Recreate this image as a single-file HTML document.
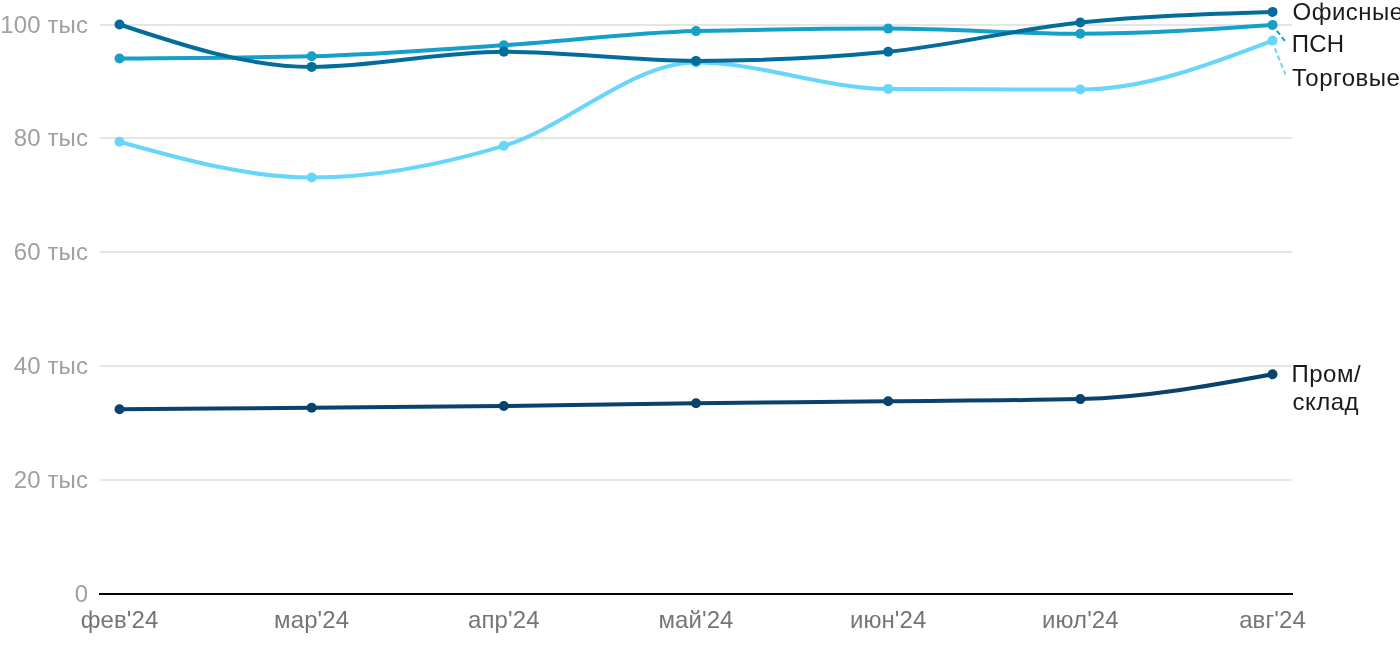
<!DOCTYPE html><html><head><meta charset="utf-8"><title>chart</title><style>
html,body{margin:0;padding:0;background:#fff;overflow:hidden;}
body{width:1400px;height:650px;position:relative;overflow:hidden;font-family:"Liberation Sans",sans-serif;}
.t{position:absolute;white-space:nowrap;line-height:1;}
.y{color:#a0a0a0;font-size:24px;text-align:right;letter-spacing:0.15px;}
.x{color:#757575;font-size:24px;text-align:center;transform:translateX(-50%);letter-spacing:0.1px;}
#txt{position:absolute;left:0;top:0;width:1400px;height:650px;will-change:transform;overflow:hidden;}
.l{color:#1a1a1a;font-size:24px;}
</style></head><body>
<svg width="1400" height="650" viewBox="0 0 1400 650" style="position:absolute;left:0;top:0">
<rect x="100" y="24" width="1192" height="2" fill="#e5e5e5"/>
<rect x="100" y="137" width="1192" height="2" fill="#e5e5e5"/>
<rect x="100" y="251" width="1192" height="2" fill="#e5e5e5"/>
<rect x="100" y="365" width="1192" height="2" fill="#e5e5e5"/>
<rect x="100" y="479" width="1192" height="2" fill="#e5e5e5"/>
<rect x="99" y="593" width="1194" height="2" fill="#000"/>
<path d="M119.50,409.30C183.56,408.77,247.61,408.25,311.67,407.70C375.72,407.15,439.78,406.75,503.83,406.00C567.89,405.25,631.94,403.98,696.00,403.20C760.06,402.42,824.11,401.98,888.17,401.30C952.22,400.62,1016.28,400.57,1080.33,399.10C1144.39,397.63,1208.44,385.97,1272.50,374.30" fill="none" stroke="#09436d" stroke-width="4" stroke-linecap="round" stroke-linejoin="round"/>
<circle cx="119.50" cy="409.30" r="5" fill="#09436d"/>
<circle cx="311.67" cy="407.70" r="5" fill="#09436d"/>
<circle cx="503.83" cy="406.00" r="5" fill="#09436d"/>
<circle cx="696.00" cy="403.20" r="5" fill="#09436d"/>
<circle cx="888.17" cy="401.30" r="5" fill="#09436d"/>
<circle cx="1080.33" cy="399.10" r="5" fill="#09436d"/>
<circle cx="1272.50" cy="374.30" r="5" fill="#09436d"/>
<path d="M119.50,141.70C183.56,159.60,247.61,177.50,311.67,177.50C375.72,177.50,439.78,164.97,503.83,145.80C567.89,126.63,631.94,62.50,696.00,62.50C760.06,62.50,824.11,88.50,888.17,88.90C952.22,89.30,1016.28,89.50,1080.33,89.50C1144.39,89.50,1208.44,65.05,1272.50,40.60" fill="none" stroke="#68d5fa" stroke-width="4" stroke-linecap="round" stroke-linejoin="round"/>
<circle cx="119.50" cy="141.70" r="5" fill="#68d5fa"/>
<circle cx="311.67" cy="177.50" r="5" fill="#68d5fa"/>
<circle cx="503.83" cy="145.80" r="5" fill="#68d5fa"/>
<circle cx="696.00" cy="62.50" r="5" fill="#68d5fa"/>
<circle cx="888.17" cy="88.90" r="5" fill="#68d5fa"/>
<circle cx="1080.33" cy="89.50" r="5" fill="#68d5fa"/>
<circle cx="1272.50" cy="40.60" r="5" fill="#68d5fa"/>
<path d="M119.50,58.50C183.56,58.12,247.61,57.73,311.67,56.20C375.72,54.67,439.78,49.38,503.83,45.20C567.89,41.02,631.94,32.77,696.00,31.10C760.06,29.43,824.11,28.60,888.17,28.60C952.22,28.60,1016.28,33.80,1080.33,33.80C1144.39,33.80,1208.44,29.35,1272.50,24.90" fill="none" stroke="#159fc9" stroke-width="4" stroke-linecap="round" stroke-linejoin="round"/>
<circle cx="119.50" cy="58.50" r="5" fill="#159fc9"/>
<circle cx="311.67" cy="56.20" r="5" fill="#159fc9"/>
<circle cx="503.83" cy="45.20" r="5" fill="#159fc9"/>
<circle cx="696.00" cy="31.10" r="5" fill="#159fc9"/>
<circle cx="888.17" cy="28.60" r="5" fill="#159fc9"/>
<circle cx="1080.33" cy="33.80" r="5" fill="#159fc9"/>
<circle cx="1272.50" cy="24.90" r="5" fill="#159fc9"/>
<path d="M119.50,24.50C183.56,45.70,247.61,66.90,311.67,66.90C375.72,66.90,439.78,51.70,503.83,51.70C567.89,51.70,631.94,60.90,696.00,60.90C760.06,60.90,824.11,57.83,888.17,51.70C952.22,45.57,1016.28,29.13,1080.33,22.50C1144.39,15.87,1208.44,13.88,1272.50,11.90" fill="none" stroke="#046c9a" stroke-width="4" stroke-linecap="round" stroke-linejoin="round"/>
<circle cx="119.50" cy="24.50" r="5" fill="#046c9a"/>
<circle cx="311.67" cy="66.90" r="5" fill="#046c9a"/>
<circle cx="503.83" cy="51.70" r="5" fill="#046c9a"/>
<circle cx="696.00" cy="60.90" r="5" fill="#046c9a"/>
<circle cx="888.17" cy="51.70" r="5" fill="#046c9a"/>
<circle cx="1080.33" cy="22.50" r="5" fill="#046c9a"/>
<circle cx="1272.50" cy="11.90" r="5" fill="#046c9a"/>
<line x1="1276.8" y1="30.8" x2="1284.8" y2="40.8" stroke="#159fc9" stroke-width="2" stroke-dasharray="5,3"/>
<line x1="1274.8" y1="48.3" x2="1285.4" y2="74.3" stroke="#68d5fa" stroke-width="2" stroke-dasharray="5,3"/>
</svg>
<div id="txt">
<div class="t y" style="right:1311.85px;top:12.5px">100 тыс</div>
<div class="t y" style="right:1311.85px;top:125.5px">80 тыс</div>
<div class="t y" style="right:1311.85px;top:239.5px">60 тыс</div>
<div class="t y" style="right:1311.85px;top:353.5px">40 тыс</div>
<div class="t y" style="right:1311.85px;top:467.5px">20 тыс</div>
<div class="t y" style="right:1311.85px;top:581.5px">0</div>
<div class="t x" style="left:119.50px;top:607.6px">фев'24</div>
<div class="t x" style="left:311.67px;top:607.6px">мар'24</div>
<div class="t x" style="left:503.83px;top:607.6px">апр'24</div>
<div class="t x" style="left:696.00px;top:607.6px">май'24</div>
<div class="t x" style="left:888.17px;top:607.6px">июн'24</div>
<div class="t x" style="left:1080.33px;top:607.6px">июл'24</div>
<div class="t x" style="left:1272.50px;top:607.6px">авг'24</div>
<div class="t l" style="left:1292.5px;top:-0.3px;letter-spacing:0.5px">Офисные</div>
<div class="t l" style="left:1291.7px;top:31.7px;letter-spacing:0.2px">ПСН</div>
<div class="t l" style="left:1292px;top:65.6px;letter-spacing:0.5px">Торговые</div>
<div class="t l" style="left:1291.5px;top:362px;letter-spacing:0.5px">Пром/</div>
<div class="t l" style="left:1292.5px;top:390.3px;letter-spacing:0.5px">склад</div>
</div>
</body></html>
